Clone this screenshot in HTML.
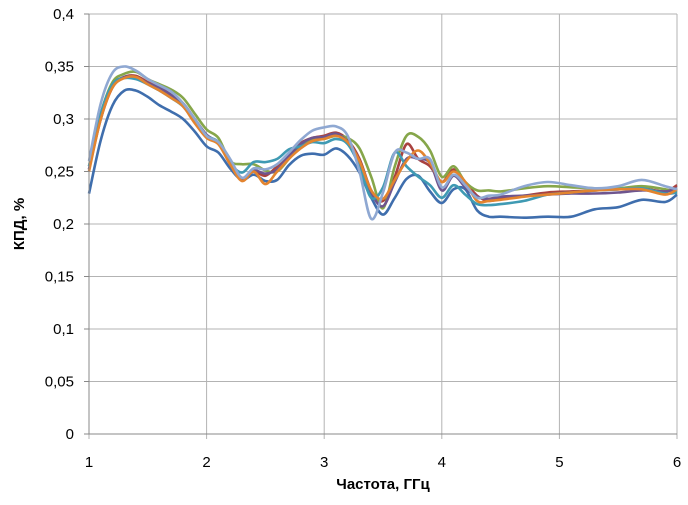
<!DOCTYPE html>
<html><head><meta charset="utf-8"><style>
body{margin:0;background:#fff;font-family:"Liberation Sans",sans-serif}
svg text{font-family:"Liberation Sans",sans-serif}
</style></head><body>
<svg id="c" width="688" height="500" xmlns="http://www.w3.org/2000/svg">
<g id="grid"></g>
<g id="series"></g>
<g id="axes"></g>
<text x="383" y="489" text-anchor="middle" font-size="15" font-weight="bold">Частота, ГГц</text>
<text transform="translate(24,224) rotate(-90)" text-anchor="middle" font-size="15" font-weight="bold">КПД, %</text>
</svg>
<script>
const xVals=[1,1.1,1.2,1.3,1.4,1.5,1.6,1.7,1.8,1.9,2,2.1,2.2,2.3,2.4,2.5,2.6,2.7,2.8,2.9,3,3.1,3.2,3.3,3.4,3.5,3.6,3.7,3.8,3.9,4,4.1,4.2,4.3,4.4,4.5,4.7,4.9,5.1,5.3,5.5,5.7,5.9,6.0];
const xTicks=[1,2,3,4,5,6];
const yTicks=[0,0.05,0.1,0.15,0.2,0.25,0.3,0.35,0.4];
const yTickLabels=["0","0,05","0,1","0,15","0,2","0,25","0,3","0,35","0,4"];
const seriesBlue=[0.229,0.280,0.313,0.327,0.327,0.321,0.313,0.307,0.300,0.288,0.274,0.268,0.253,0.242,0.247,0.241,0.242,0.256,0.265,0.267,0.266,0.272,0.265,0.249,0.225,0.209,0.225,0.243,0.246,0.231,0.220,0.233,0.233,0.213,0.207,0.207,0.206,0.207,0.207,0.214,0.216,0.223,0.221,0.228];
const seriesRed=[0.252,0.300,0.330,0.340,0.341,0.335,0.330,0.322,0.312,0.298,0.283,0.277,0.258,0.244,0.250,0.246,0.255,0.266,0.277,0.282,0.284,0.287,0.280,0.262,0.232,0.222,0.245,0.276,0.262,0.255,0.240,0.252,0.240,0.227,0.222,0.224,0.227,0.230,0.231,0.232,0.233,0.234,0.231,0.237];
const seriesGreen=[0.255,0.305,0.335,0.343,0.345,0.338,0.333,0.328,0.320,0.305,0.290,0.282,0.260,0.257,0.257,0.251,0.250,0.262,0.275,0.280,0.281,0.284,0.282,0.272,0.245,0.215,0.255,0.284,0.283,0.270,0.245,0.255,0.240,0.232,0.232,0.231,0.234,0.236,0.235,0.234,0.234,0.236,0.233,0.230];
const seriesPurple=[0.252,0.302,0.332,0.340,0.340,0.334,0.330,0.323,0.315,0.300,0.285,0.277,0.257,0.243,0.251,0.248,0.252,0.265,0.276,0.282,0.283,0.286,0.278,0.260,0.230,0.217,0.240,0.262,0.262,0.258,0.232,0.246,0.235,0.226,0.224,0.226,0.227,0.228,0.229,0.229,0.230,0.232,0.231,0.234];
const seriesTeal=[0.255,0.305,0.333,0.339,0.338,0.333,0.327,0.320,0.312,0.298,0.284,0.278,0.258,0.249,0.259,0.259,0.262,0.271,0.274,0.278,0.277,0.281,0.276,0.255,0.225,0.235,0.268,0.255,0.245,0.237,0.225,0.237,0.228,0.219,0.218,0.219,0.222,0.228,0.230,0.232,0.233,0.234,0.229,0.230];
const seriesOrange=[0.250,0.300,0.330,0.339,0.340,0.333,0.327,0.320,0.312,0.296,0.282,0.276,0.257,0.241,0.250,0.238,0.250,0.262,0.272,0.279,0.281,0.284,0.278,0.260,0.232,0.224,0.242,0.260,0.270,0.258,0.240,0.250,0.240,0.222,0.222,0.223,0.226,0.228,0.230,0.232,0.233,0.233,0.228,0.233];
const seriesLight=[0.260,0.315,0.344,0.350,0.346,0.338,0.332,0.326,0.315,0.300,0.284,0.278,0.262,0.244,0.253,0.252,0.257,0.268,0.280,0.289,0.292,0.293,0.284,0.250,0.205,0.230,0.268,0.268,0.262,0.262,0.235,0.247,0.237,0.225,0.227,0.228,0.236,0.240,0.237,0.234,0.236,0.242,0.236,0.233];

const X0=89,X1=677,Y0=434,Y1=14;
const sx=v=>X0+(v-1)/5*(X1-X0);
const sy=v=>Y0-v/0.4*(Y0-Y1);
const NS="http://www.w3.org/2000/svg";
function mk(tag,attrs,parent){const e=document.createElementNS(NS,tag);for(const k in attrs)e.setAttribute(k,attrs[k]);parent.appendChild(e);return e;}
const grid=document.getElementById('grid'),axes=document.getElementById('axes'),ser=document.getElementById('series');
yTicks.forEach((t,i)=>{
  const l=mk('line',{x1:X0,x2:X1,y1:sy(t),y2:sy(t),stroke:'#b3b3b3','stroke-width':1},grid);
  
  
  const k=mk('line',{x1:X0-5,x2:X0,y1:sy(t),y2:sy(t),stroke:'#888'},axes);
  
  
  const tx=mk('text',{x:74,y:sy(t)+5,'text-anchor':'end','font-size':15,fill:'#000'},axes);
  tx.textContent=yTickLabels[i];
  
  
});
xTicks.forEach(t=>{
  const l=mk('line',{x1:sx(t),x2:sx(t),y1:Y1,y2:Y0+5,stroke:'#b3b3b3','stroke-width':1},grid);
  
  
  const tx=mk('text',{x:sx(t),y:467,'text-anchor':'middle','font-size':15,fill:'#000'},axes);
  tx.textContent=String(t);
  
  
});
const ax=mk('line',{x1:X0,x2:X0,y1:Y1,y2:Y0,stroke:'#888'},axes);


const bx=mk('line',{x1:X0,x2:X1,y1:Y0,y2:Y0,stroke:'#888'},axes);


function smooth(pts){let d=`M${pts[0][0]},${pts[0][1]}`;for(let i=0;i<pts.length-1;i++){const p0=pts[i-1]||pts[i],p1=pts[i],p2=pts[i+1],p3=pts[i+2]||p2;const c1=[p1[0]+(p2[0]-p0[0])/6,p1[1]+(p2[1]-p0[1])/6],c2=[p2[0]-(p3[0]-p1[0])/6,p2[1]-(p3[1]-p1[1])/6];d+=`C${c1[0].toFixed(1)},${c1[1].toFixed(1)} ${c2[0].toFixed(1)},${c2[1].toFixed(1)} ${p2[0].toFixed(1)},${p2[1].toFixed(1)}`;}return d;}
const list=[[seriesBlue,'#3f6ead','series-1'],[seriesRed,'#a9423f','series-2'],[seriesGreen,'#86a64a','series-3'],[seriesPurple,'#6e558e','series-4'],[seriesTeal,'#3f9ab3','series-5'],[seriesOrange,'#e3842f','series-6'],[seriesLight,'#8fa8d2','series-7']];
list.forEach(([vals,col,name])=>{
  const p=mk('path',{d:smooth(vals.map((v,i)=>[sx(xVals[i]),sy(v)])),fill:'none',stroke:col,'stroke-width':2.6,'stroke-linejoin':'round'},ser);
  
  
});
</script>
</body></html>
